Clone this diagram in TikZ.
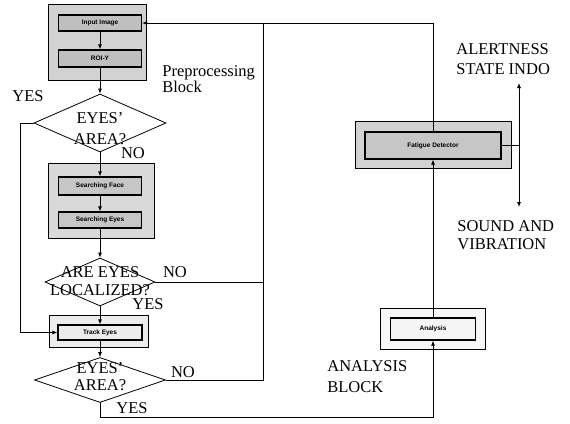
\documentclass[tikz,border=0pt]{standalone}
\usepackage{fontspec}
\setmainfont{Liberation Serif}
\newfontfamily\boxfont{Liberation Sans}
\usetikzlibrary{calc}
\usetikzlibrary{arrows.meta}
\usetikzlibrary{shapes.geometric}

\begin{document}
\begin{tikzpicture}[x=1pt, y=-1pt, line width=0.8pt,
    >={Latex[length=5pt,width=4pt]},
    blockbox/.style={draw, line width=1pt, fill=gray!30, inner sep=0pt},
    stagebox/.style={draw, line width=1.3pt, fill=gray!45, inner sep=0pt,
        font=\boxfont\bfseries\fontsize{6.5}{7}\selectfont},
    decision/.style={draw, diamond, inner sep=0pt},
    lbl/.style={inner sep=0pt, font=\fontsize{16.5}{19}\selectfont}]
    \useasboundingbox (0,0) rectangle (570,423);

    % Preprocessing block
    \node[blockbox, fill=gray!35, minimum width=98, minimum height=76] (pre) at (97,42) {};
    \node[stagebox, fill=gray!50, minimum width=83, minimum height=16] (inimg) at (100,23) {Input Image};
    \node[stagebox, fill=gray!50, minimum width=83, minimum height=17] (roi) at (100,58.5) {ROI-Y};
    \node[lbl, anchor=west, align=left, font=\fontsize{16.5}{16}\selectfont] (pretxt) at (162,79.5) {Preprocessing\\Block};

    % first check
    \node[decision, minimum width=132, minimum height=58] (d1) at (100,123) {};
    \node[lbl, align=center, font=\fontsize{16.5}{21}\selectfont] (d1txt) at (100,129) {EYES'\\AREA?};
    \node[lbl] (d1yes) at (28,96) {YES};
    \node[lbl] (d1no) at (133,153) {NO};

    % Searching block
    \node[blockbox, minimum width=106, minimum height=75] (srch) at (101,200.5) {};
    \node[stagebox, minimum width=83, minimum height=18] (face) at (100,186) {Searching Face};
    \node[stagebox, minimum width=83, minimum height=16] (eyes) at (100,220) {Searching Eyes};

    % second check
    \node[decision, minimum width=110, minimum height=48] (d2) at (100,282) {};
    \node[lbl, align=center, font=\fontsize{16.5}{18}\selectfont] (d2txt) at (100,281) {ARE EYES\\LOCALIZED?};
    \node[lbl] (d2no) at (175,272) {NO};
    \node[lbl] (d2yes) at (148,304) {YES};

    % Tracking block
    \node[blockbox, fill=gray!15, minimum width=99, minimum height=32] (trk) at (98.5,331) {};
    \node[stagebox, fill=gray!15, minimum width=84, minimum height=15] (track) at (100,332.5) {Track Eyes};

    % third check
    \node[decision, minimum width=131, minimum height=45] (d3) at (100,380) {};
    \node[lbl, align=center, font=\fontsize{16.5}{17}\selectfont] (d3txt) at (100,376.5) {EYES'\\AREA?};
    \node[lbl] (d3no) at (183,372) {NO};
    \node[lbl] (d3yes) at (132,408) {YES};

    % Fatigue and analysis blocks
    \node[blockbox, fill=gray!35, minimum width=156, minimum height=47] (fat) at (433,144.5) {};
    \node[stagebox, minimum width=136, minimum height=27] (fatd) at (433,145.5) {Fatigue Detector};
    \node[blockbox, fill=gray!6, minimum width=105, minimum height=41] (ana) at (433,328.5) {};
    \node[stagebox, fill=gray!8, minimum width=85, minimum height=22] (anl) at (433,329) {Analysis};
    \node[lbl, anchor=west, align=left, font=\fontsize{16.5}{21}\selectfont] (anatxt) at (327,376.5) {ANALYSIS\\BLOCK};

    % outputs
    \node[lbl, anchor=west, align=left, font=\fontsize{16.5}{20}\selectfont] (alert) at (456,59) {ALERTNESS\\STATE INDO};
    \node[lbl, anchor=west, align=left, font=\fontsize{16.5}{18}\selectfont] (sound) at (457,235.5) {SOUND AND\\VIBRATION};

    \coordinate (yesbus) at (20,0);
    \coordinate (nobus) at (263,0);
    \coordinate (botm) at (0,417);
    \coordinate (sigtop) at (519,83);
    \coordinate (sigbot) at (519,207);

    % main flow
    \draw[->] (inimg) -- (roi);
    \draw[->] (roi) -- (d1.north);
    \draw[->] (d1.south) -- (face.north);
    \draw[->] (face) -- (eyes);
    \draw[->] (eyes) -- (d2.north);
    \draw[->] (d2.south) -- (track.north);
    \draw[->] (track) -- (d3.north);
    \draw[->] (d1.west) -| (track.west -| yesbus) -- (track.west);

    % back to the input
    \draw (d2.east) -- (d2.east -| nobus);
    \draw (d3.east) -| (inimg.east -| nobus);
    \draw[->] (fatd.north) |- (inimg.east);

    % to the analysis
    \draw[->] (d3.south) -- (d3.south |- botm) -| (anl.south);
    \draw[->] (anl.north) -- (fatd.south);

    % signals
    \draw (fatd.east) -- (fatd.east -| sigtop);
    \draw[<->] (sigtop) -- (sigbot);
\end{tikzpicture}
\end{document}
